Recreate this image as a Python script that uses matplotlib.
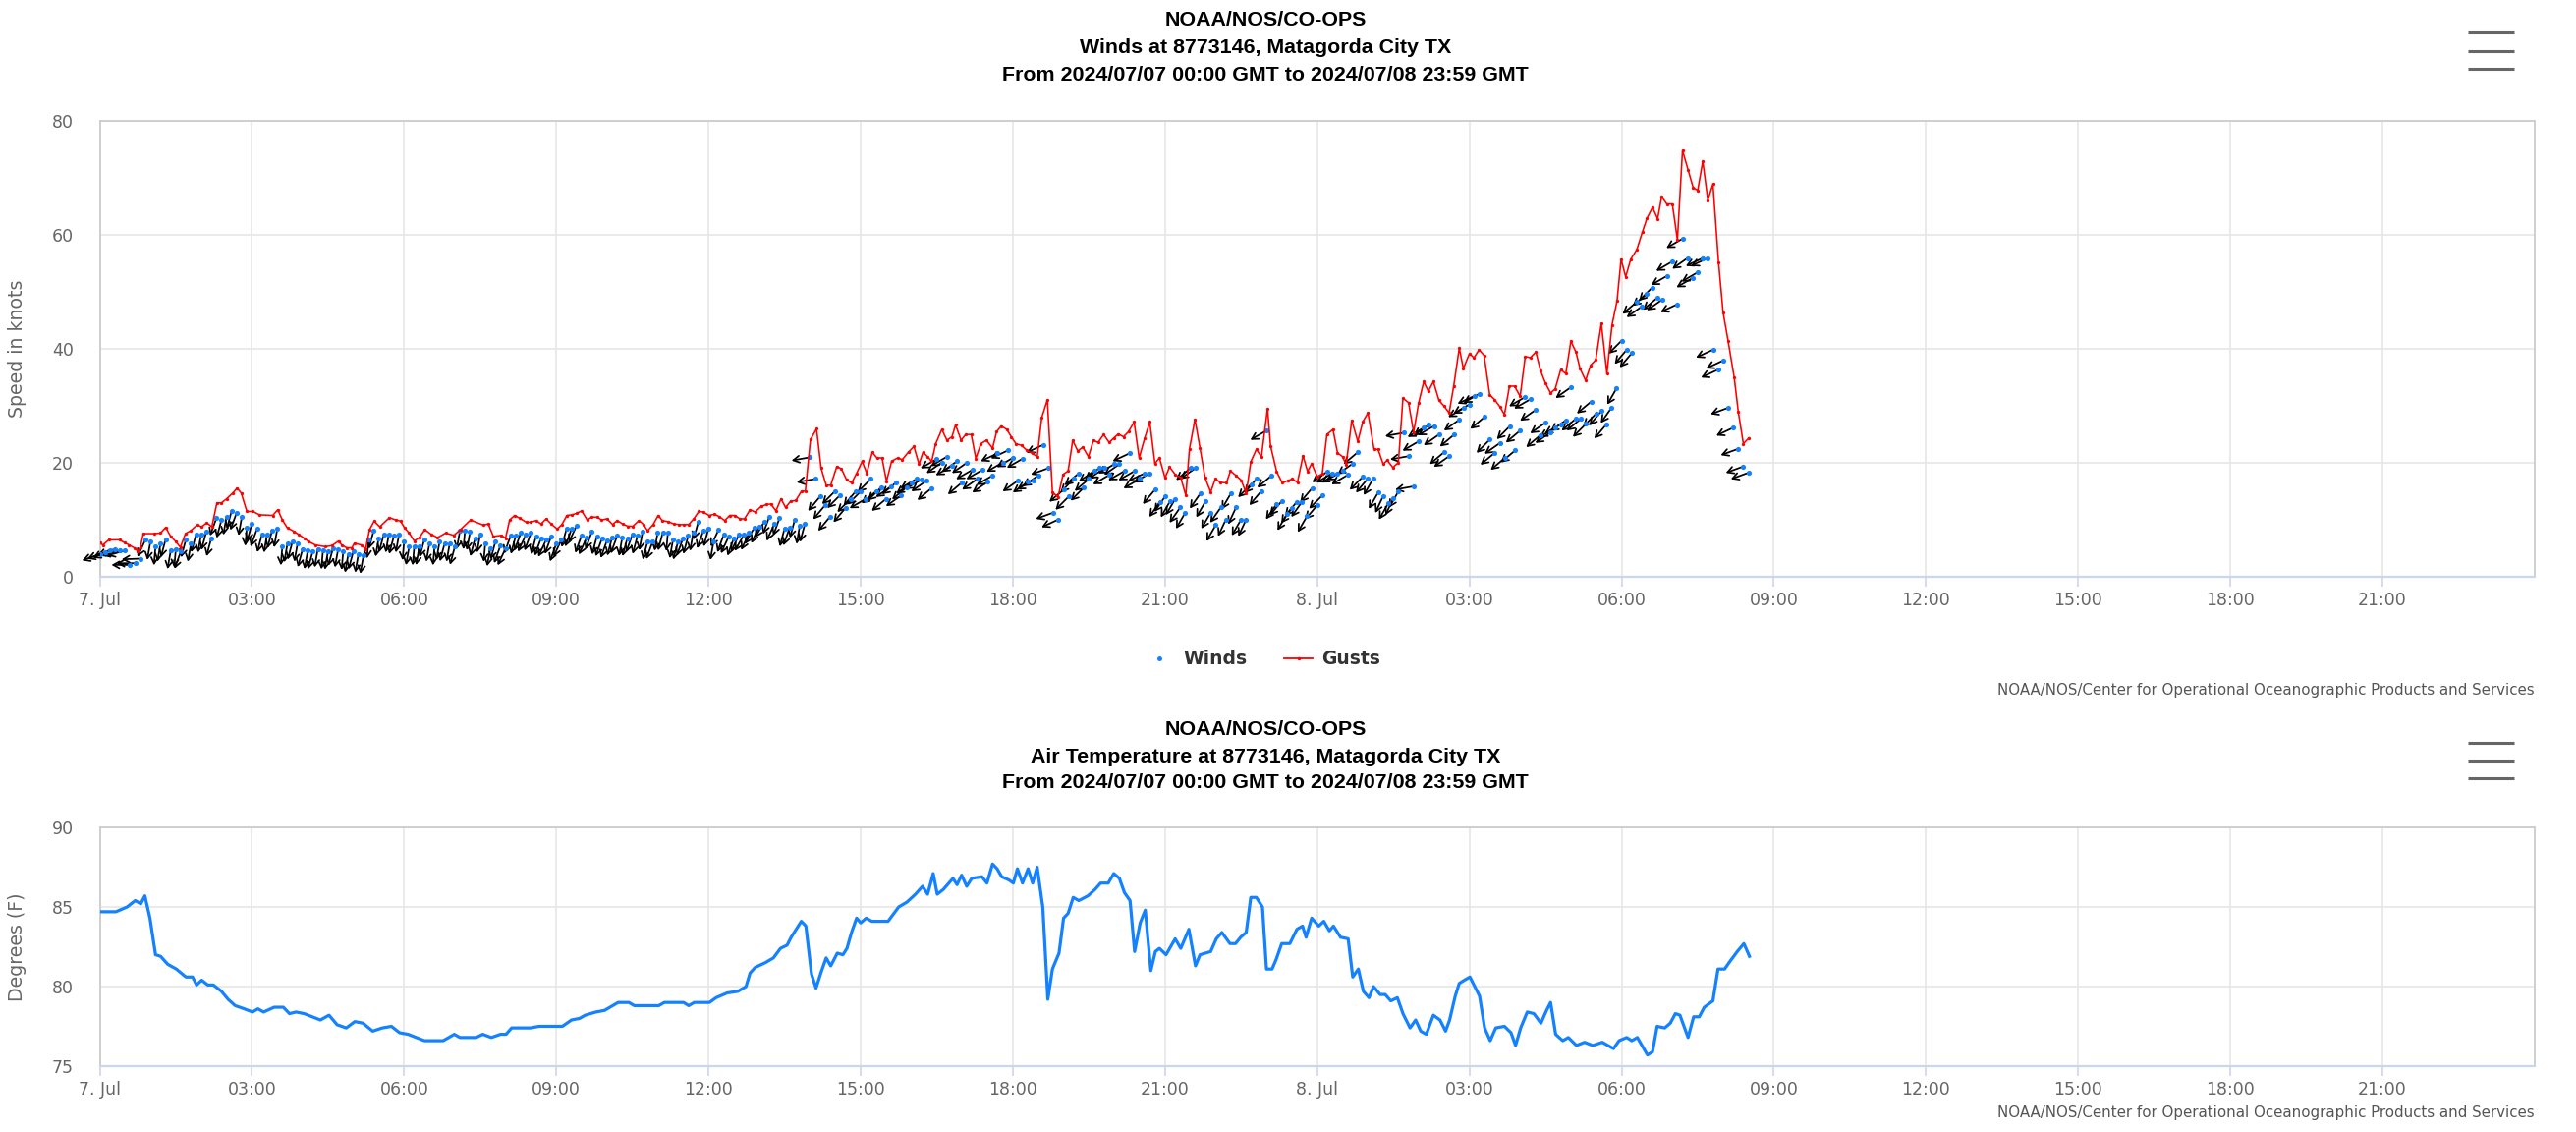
import matplotlib
matplotlib.use("Agg")
import matplotlib.pyplot as plt
from matplotlib.lines import Line2D
from matplotlib.transforms import offset_copy
import numpy as np

W, H, DPI = 2622, 1152, 100

# ---------------- data ----------------
wind_step_hours = 0.1  # one observation every 6 minutes from 2024/07/07 00:00
wind_speed = [
    3.9, 4.2, 4.6, 4.8, 4.5, 4.5, 2.0, 2.3, 3.1, 6.4,
    6.1, 5.2, 5.8, 6.5, 4.5, 4.8, 4.4, 6.5, 5.8, 7.4,
    7.4, 7.8, 6.7, 10.2, 9.9, 10.5, 11.5, 11.2, 10.4, 8.6,
    9.3, 8.3, 7.4, 7.4, 8.1, 8.3, 5.2, 5.7, 6.1, 5.8,
    4.8, 4.5, 4.4, 4.8, 4.5, 4.4, 5.0, 4.8, 4.4, 3.9,
    4.4, 3.9, 3.7, 6.4, 8.0, 6.7, 7.4, 7.4, 7.1, 7.4,
    6.1, 5.2, 5.2, 5.2, 6.5, 5.8, 5.2, 6.1, 5.8, 5.8,
    5.2, 8.0, 8.0, 7.8, 6.7, 7.4, 5.8, 5.0, 6.1, 5.4,
    4.9, 7.1, 7.1, 7.6, 7.3, 7.6, 7.0, 6.7, 6.4, 7.0,
    5.7, 6.4, 8.3, 8.3, 8.9, 7.2, 6.8, 7.8, 7.0, 6.6,
    6.3, 6.8, 7.1, 6.8, 6.7, 7.3, 7.1, 7.8, 6.1, 6.1,
    7.7, 7.7, 7.7, 6.4, 6.1, 6.7, 7.1, 7.7, 9.6, 8.0,
    8.4, 6.1, 8.2, 7.3, 7.0, 6.7, 7.3, 7.3, 7.6, 8.5,
    8.8, 9.6, 10.5, 9.2, 10.2, 8.4, 8.5, 9.9, 8.9, 9.2,
    20.9, 17.1, 14.0, 12.5, 10.5, 15.0, 14.3, 12.0, 13.6, 14.9,
    14.9, 13.6, 17.1, 14.9, 15.6, 13.6, 15.8, 16.5, 14.2, 15.6,
    16.4, 17.1, 17.0, 16.8, 15.5, 20.6, 20.0, 21.0, 19.4, 20.2,
    16.5, 20.0, 18.7, 17.1, 18.7, 16.6, 17.7, 21.6, 20.0, 22.1,
    20.8, 16.8, 20.7, 16.6, 16.9, 17.7, 23.1, 19.0, 11.2, 10.0,
    15.2, 14.0, 17.1, 18.1, 15.6, 17.1, 18.5, 19.0, 19.0, 17.8,
    19.7, 19.7, 18.5, 21.6, 18.5, 17.1, 18.1, 18.1, 15.2, 13.1,
    14.0, 13.2, 13.6, 12.1, 11.2, 19.0, 19.0, 14.6, 13.2, 11.2,
    9.0, 12.1, 10.0, 14.6, 12.1, 10.0, 10.0, 16.2, 17.1, 15.0,
    25.6, 17.7, 12.7, 13.2, 10.9, 12.0, 13.1, 13.1, 10.6, 15.5,
    12.5, 14.2, 18.4, 18.1, 18.1, 18.5, 17.8, 19.8, 21.8, 17.5,
    17.2, 17.1, 14.7, 14.1, 12.8, 13.7, 14.9, 25.2, 21.1, 15.8,
    23.7, 26.1, 26.6, 26.4, 24.9, 21.8, 21.1, 24.9, 27.5, 29.6,
    30.2, 31.7, 32.1, 28.0, 24.0, 21.7, 23.4, 20.8, 26.4, 22.1,
    25.6, 31.5, 31.1, 29.2, 24.8, 27.0, 25.3, 26.1, 26.7, 27.4,
    33.2, 27.7, 27.7, 26.8, 30.7, 28.6, 29.0, 26.7, 29.6, 33.0,
    41.4, 39.8, 39.2, 48.2, 47.4, 49.6, 50.7, 48.9, 48.6, 52.8,
    55.3, 47.8, 59.3, 55.9, 52.4, 53.4, 55.9, 55.9, 39.8, 36.3,
    37.9, 29.6, 26.1, 22.4, 19.3, 18.2,
]
# direction the wind blows FROM, degrees true
wind_dir = [
    70, 70, 65, 70, 75, 75, 90, 90, 88, 25,
    10, 5, 10, 15, 10, 5, 20, 15, 10, 15,
    10, 15, 15, 20, 15, 10, 15, 20, 10, 5,
    15, 20, 15, 10, 15, 10, 5, 10, 15, 10,
    15, 10, 15, 10, 5, 10, 15, 10, 5, 10,
    15, 10, 10, 5, 15, 10, 15, 10, 15, 10,
    5, 10, 5, 10, 15, 10, 5, 10, 15, 10,
    15, 10, 5, 10, 15, 10, 5, 10, 15, 20,
    25, 20, 15, 20, 25, 20, 15, 20, 25, 20,
    20, 25, 15, 20, 25, 20, 25, 20, 15, 20,
    20, 15, 20, 10, 15, 20, 15, 10, 15, 20,
    10, 15, 5, 10, 15, 20, 15, 10, 15, 20,
    15, 10, 25, 20, 25, 20, 25, 30, 25, 30,
    25, 30, 20, 25, 20, 15, 20, 15, 10, 15,
    80, 80, 40, 40, 40, 45, 45, 40, 45, 40,
    45, 60, 45, 50, 45, 50, 55, 50, 55, 50,
    55, 60, 60, 55, 50, 60, 55, 60, 60, 55,
    50, 55, 60, 55, 60, 55, 60, 65, 60, 65,
    60, 55, 60, 55, 60, 55, 65, 70, 70, 65,
    50, 45, 45, 50, 45, 50, 55, 50, 55, 60,
    60, 55, 60, 65, 60, 60, 65, 60, 40, 35,
    35, 30, 30, 35, 30, 50, 55, 35, 30, 30,
    30, 35, 25, 30, 25, 30, 25, 45, 40, 40,
    60, 50, 35, 40, 30, 35, 40, 35, 30, 40,
    40, 45, 55, 60, 60, 60, 60, 55, 50, 45,
    40, 30, 30, 25, 30, 25, 30, 80, 80, 80,
    60, 60, 55, 60, 55, 50, 55, 50, 55, 60,
    60, 65, 60, 50, 45, 50, 55, 50, 45, 50,
    50, 60, 60, 55, 50, 55, 55, 60, 60, 55,
    55, 50, 50, 45, 50, 45, 40, 40, 35, 30,
    45, 40, 40, 50, 55, 50, 45, 50, 55, 60,
    60, 65, 60, 55, 60, 60, 65, 65, 65, 65,
    65, 70, 65, 70, 70, 70,
]
gust_hours = [
    0.00, 0.06, 0.18, 0.39, 0.49, 0.58, 0.68, 0.75, 0.80, 0.86, 1.07, 1.20, 1.30, 1.40,
    1.50, 1.59, 1.69, 1.79, 1.92, 2.01, 2.11, 2.21, 2.31, 2.40, 2.50, 2.62, 2.71, 2.79,
    2.90, 3.02, 3.15, 3.41, 3.51, 3.60, 3.70, 3.83, 3.93, 4.03, 4.12, 4.25, 4.45, 4.58,
    4.71, 4.77, 4.87, 4.97, 5.02, 5.16, 5.24, 5.32, 5.41, 5.52, 5.71, 5.84, 5.93, 6.01,
    6.10, 6.20, 6.30, 6.41, 6.53, 6.66, 6.82, 6.98, 7.11, 7.31, 7.56, 7.66, 7.76, 7.92,
    8.00, 8.08, 8.18, 8.28, 8.41, 8.50, 8.60, 8.70, 8.80, 8.90, 9.02, 9.11, 9.21, 9.31,
    9.41, 9.50, 9.61, 9.70, 9.81, 9.89, 10.00, 10.11, 10.20, 10.31, 10.41, 10.51, 10.63,
    10.72, 10.80, 10.91, 11.01, 11.09, 11.21, 11.32, 11.42, 11.52, 11.61, 11.71, 11.81,
    11.90, 12.01, 12.12, 12.21, 12.32, 12.42, 12.52, 12.62, 12.71, 12.82, 12.92, 13.04,
    13.14, 13.23, 13.33, 13.43, 13.52, 13.62, 13.72, 13.83, 13.91, 14.01, 14.13, 14.22,
    14.32, 14.41, 14.53, 14.62, 14.72, 14.82, 14.92, 15.03, 15.12, 15.23, 15.32, 15.42,
    15.51, 15.61, 15.73, 15.82, 15.94, 16.05, 16.15, 16.23, 16.32, 16.40, 16.48, 16.60,
    16.70, 16.80, 16.87, 16.98, 17.07, 17.18, 17.27, 17.37, 17.48, 17.60, 17.68, 17.77,
    17.88, 17.97, 18.06, 18.17, 18.28, 18.38, 18.48, 18.57, 18.68, 18.78, 18.89, 18.99,
    19.09, 19.18, 19.28, 19.38, 19.49, 19.59, 19.68, 19.79, 19.90, 19.99, 20.08, 20.18,
    20.28, 20.39, 20.49, 20.60, 20.70, 20.80, 20.89, 21.00, 21.09, 21.20, 21.31, 21.41,
    21.48, 21.59, 21.69, 21.79, 21.90, 21.99, 22.09, 22.21, 22.29, 22.40, 22.50, 22.60,
    22.69, 22.80, 22.90, 23.02, 23.08, 23.20, 23.31, 23.42, 23.51, 23.61, 23.72, 23.81,
    23.89, 24.00, 24.10, 24.19, 24.31, 24.40, 24.50, 24.57, 24.68, 24.80, 24.90, 25.00,
    25.12, 25.20, 25.30, 25.38, 25.49, 25.60, 25.69, 25.80, 25.90, 26.00, 26.10, 26.19,
    26.29, 26.40, 26.50, 26.60, 26.69, 26.80, 26.88, 27.00, 27.09, 27.19, 27.29, 27.40,
    27.50, 27.60, 27.69, 27.79, 27.89, 28.00, 28.10, 28.20, 28.31, 28.40, 28.50, 28.60,
    28.69, 28.80, 28.90, 29.00, 29.10, 29.18, 29.29, 29.39, 29.49, 29.60, 29.71, 29.81,
    29.91, 29.99, 30.08, 30.18, 30.30, 30.41, 30.50, 30.61, 30.71, 30.79, 30.89, 31.00,
    31.10, 31.20, 31.31, 31.41, 31.50, 31.60, 31.70, 31.80, 31.91, 32.00, 32.10, 32.22,
    32.30, 32.40, 32.51,
]
gust_speed = [
    5.9, 5.5, 6.4, 6.4, 5.9, 5.5, 5.0, 4.4, 5.1, 7.5, 7.5, 7.6, 8.6, 7.0,
    6.1, 5.1, 7.5, 8.0, 9.0, 8.7, 9.4, 8.7, 12.9, 12.9, 13.6, 14.6, 15.5, 14.6,
    11.4, 11.4, 10.8, 10.7, 11.7, 9.9, 8.5, 7.9, 7.3, 6.7, 6.1, 5.5, 5.2, 5.4,
    6.2, 5.5, 5.0, 5.0, 5.8, 5.5, 4.8, 8.2, 9.7, 8.7, 10.3, 9.9, 9.7, 8.5,
    7.6, 6.2, 6.8, 8.2, 7.4, 6.8, 7.6, 7.2, 8.2, 9.9, 9.0, 9.2, 7.0, 7.2,
    6.7, 9.9, 10.7, 10.2, 9.5, 9.5, 9.8, 9.2, 10.1, 9.2, 8.3, 9.1, 10.7, 10.8,
    11.1, 11.5, 9.9, 10.4, 10.4, 9.9, 10.1, 9.1, 9.8, 9.2, 8.8, 8.8, 9.8,
    9.1, 8.0, 9.1, 10.7, 9.8, 9.6, 9.2, 9.1, 9.1, 9.1, 10.1, 11.4,
    11.3, 10.7, 10.9, 10.5, 9.8, 10.7, 10.7, 10.1, 10.1, 11.7, 11.3, 12.3,
    12.6, 12.7, 11.5, 13.6, 12.1, 13.2, 13.3, 14.9, 15.0, 24.0, 25.9, 19.0,
    16.0, 16.0, 19.3, 18.9, 17.0, 16.4, 18.1, 20.2, 18.1, 21.8, 20.8, 20.8,
    16.7, 20.2, 20.8, 20.5, 21.8, 22.8, 19.7, 21.8, 21.0, 20.2, 23.3, 25.8,
    23.9, 24.5, 26.6, 23.9, 24.9, 24.9, 20.7, 23.3, 23.9, 22.5, 25.4, 26.4,
    25.8, 24.5, 23.3, 23.0, 22.1, 21.6, 21.0, 27.9, 31.0, 14.8, 13.9, 17.9,
    18.5, 23.9, 22.0, 22.7, 21.0, 23.9, 23.5, 24.9, 23.5, 24.3, 25.0, 24.5,
    25.4, 27.1, 20.8, 24.3, 27.1, 19.8, 20.8, 17.3, 19.2, 17.9, 17.3, 14.2,
    22.3, 27.6, 22.5, 17.3, 14.8, 17.1, 16.5, 16.4, 18.5, 17.7, 16.9, 14.6,
    20.1, 22.3, 21.0, 29.5, 22.9, 18.4, 16.4, 16.8, 17.1, 16.5, 21.2, 18.4,
    19.8, 17.5, 18.0, 24.9, 25.8, 21.7, 21.0, 19.6, 27.4, 23.7, 27.2, 28.7,
    22.3, 22.3, 19.7, 20.4, 19.1, 20.0, 31.3, 30.5, 25.3, 30.5, 34.2, 32.5,
    34.2, 30.9, 29.9, 28.7, 33.4, 40.1, 36.5, 39.1, 38.4, 39.8, 38.8, 31.9,
    31.0, 29.8, 28.4, 33.4, 33.4, 31.6, 38.6, 38.4, 39.4, 36.2, 33.9, 32.2,
    32.9, 36.3, 35.6, 41.3, 39.4, 36.5, 34.4, 37.1, 38.0, 44.4, 35.6, 44.1,
    48.4, 55.7, 52.6, 55.7, 57.4, 60.5, 62.9, 64.8, 62.8, 66.7, 65.4, 65.4,
    59.1, 74.8, 71.4, 68.3, 67.8, 72.9, 66.1, 68.9, 55.2, 46.4, 41.3, 34.9,
    28.9, 23.3, 24.3,
]
temp_hours = [
    0.00, 0.32, 0.54, 0.70, 0.81, 0.89, 0.99, 1.10, 1.20, 1.34, 1.51, 1.70, 1.83, 1.91,
    2.01, 2.13, 2.24, 2.40, 2.53, 2.67, 2.85, 3.01, 3.12, 3.23, 3.44, 3.62, 3.74, 3.87,
    4.03, 4.19, 4.35, 4.52, 4.68, 4.86, 5.03, 5.19, 5.38, 5.57, 5.75, 5.91, 6.08, 6.24,
    6.40, 6.77, 6.99, 7.10, 7.42, 7.55, 7.72, 7.90, 8.01, 8.12, 8.49, 8.66, 9.12, 9.30,
    9.46, 9.57, 9.78, 9.95, 10.22, 10.43, 10.54, 11.02, 11.13, 11.51, 11.61, 11.72, 12.02,
    12.15, 12.37, 12.58, 12.74, 12.82, 12.92, 13.12, 13.28, 13.42, 13.55, 13.63, 13.83,
    13.92, 14.03, 14.12, 14.22, 14.32, 14.41, 14.54, 14.65, 14.73, 14.82, 14.92, 15.00,
    15.11, 15.22, 15.54, 15.75, 15.91, 16.08, 16.22, 16.32, 16.43, 16.51, 16.63, 16.74,
    16.82, 16.90, 16.99, 17.09, 17.19, 17.39, 17.49, 17.60, 17.69, 17.78, 17.92, 18.01,
    18.09, 18.19, 18.30, 18.39, 18.48, 18.59, 18.69, 18.78, 18.91, 19.00, 19.09, 19.19,
    19.30, 19.48, 19.62, 19.73, 19.88, 19.99, 20.10, 20.20, 20.31, 20.40, 20.51, 20.61,
    20.72, 20.81, 20.89, 21.02, 21.20, 21.31, 21.47, 21.60, 21.69, 21.90, 22.01, 22.12,
    22.28, 22.39, 22.49, 22.60, 22.69, 22.80, 22.92, 23.00, 23.11, 23.19, 23.30, 23.46,
    23.60, 23.71, 23.78, 23.89, 24.03, 24.13, 24.24, 24.32, 24.46, 24.61, 24.70, 24.81,
    24.91, 25.02, 25.11, 25.24, 25.34, 25.45, 25.58, 25.69, 25.83, 25.94, 26.04, 26.15,
    26.29, 26.42, 26.53, 26.61, 26.72, 26.80, 26.90, 27.01, 27.12, 27.20, 27.30, 27.41,
    27.52, 27.69, 27.82, 27.91, 28.01, 28.14, 28.27, 28.41, 28.52, 28.60, 28.70, 28.84,
    28.95, 29.11, 29.27, 29.43, 29.62, 29.84, 29.95, 30.10, 30.20, 30.31, 30.40, 30.51,
    30.61, 30.70, 30.85, 30.96, 31.06, 31.15, 31.31, 31.42, 31.53, 31.63, 31.80, 31.90,
    32.03, 32.14, 32.28, 32.41, 32.52,
]
temp_values = [
    84.7, 84.7, 85.0, 85.4, 85.2, 85.7, 84.3, 82.0, 81.9, 81.4, 81.1, 80.6, 80.6, 80.1,
    80.4, 80.1, 80.1, 79.7, 79.2, 78.8, 78.6, 78.4, 78.6, 78.4, 78.7, 78.7, 78.3, 78.4,
    78.3, 78.1, 77.9, 78.2, 77.6, 77.4, 77.8, 77.7, 77.2, 77.4, 77.5, 77.1, 77.0, 76.8,
    76.6, 76.6, 77.0, 76.8, 76.8, 77.0, 76.8, 77.0, 77.0, 77.4, 77.4, 77.5, 77.5, 77.9,
    78.0, 78.2, 78.4, 78.5, 79.0, 79.0, 78.8, 78.8, 79.0, 79.0, 78.8, 79.0, 79.0,
    79.3, 79.6, 79.7, 80.0, 80.85, 81.2, 81.5, 81.8, 82.4, 82.6, 83.1, 84.1,
    83.8, 80.8, 79.9, 80.9, 81.8, 81.3, 82.1, 82.0, 82.4, 83.4, 84.3, 84.0,
    84.3, 84.1, 84.1, 85.0, 85.3, 85.8, 86.3, 85.8, 87.1, 85.8, 86.1, 86.5,
    86.8, 86.4, 87.0, 86.3, 86.8, 86.9, 86.5, 87.7, 87.4, 86.9, 86.7, 86.5,
    87.4, 86.5, 87.4, 86.5, 87.5, 85.0, 79.2, 81.1, 82.1, 84.3, 84.6, 85.6,
    85.4, 85.7, 86.1, 86.5, 86.5, 87.1, 86.8, 85.9, 85.4, 82.2, 84.0, 84.8,
    81.0, 82.2, 82.4, 82.0, 83.0, 82.4, 83.6, 81.3, 82.0, 82.2, 83.0, 83.4,
    82.7, 82.7, 83.1, 83.4, 85.6, 85.6, 85.0, 81.1, 81.1, 81.7, 82.7, 82.7,
    83.6, 83.8, 83.1, 84.3, 83.8, 84.1, 83.5, 83.8, 83.1, 83.0, 80.6, 81.1,
    79.7, 79.3, 80.0, 79.5, 79.5, 79.1, 79.3, 78.3, 77.4, 77.9, 77.2, 77.0,
    78.2, 77.9, 77.2, 77.9, 79.4, 80.2, 80.4, 80.6, 79.9, 79.4, 77.4, 76.6,
    77.4, 77.5, 77.1, 76.3, 77.4, 78.4, 78.3, 77.7, 78.5, 79.0, 77.0, 76.6,
    76.8, 76.3, 76.5, 76.3, 76.5, 76.1, 76.6, 76.8, 76.6, 76.8, 76.3, 75.7,
    75.9, 77.5, 77.4, 77.7, 78.3, 78.2, 76.8, 78.1, 78.1, 78.7, 79.1, 81.1,
    81.1, 81.6, 82.2, 82.7, 81.9,
]
x_tick_hours = [0, 3, 6, 9, 12, 15, 18, 21, 24, 27, 30, 33, 36, 39, 42, 45]
x_tick_labels = ["7. Jul", "03:00", "06:00", "09:00", "12:00", "15:00", "18:00", "21:00",
                 "8. Jul", "03:00", "06:00", "09:00", "12:00", "15:00", "18:00", "21:00"]
wind_yticks = [0, 20, 40, 60, 80]
temp_yticks = [75, 80, 85, 90]

wind_title = ["NOAA/NOS/CO-OPS", "Winds at 8773146, Matagorda City TX",
              "From 2024/07/07 00:00 GMT to 2024/07/08 23:59 GMT"]
temp_title = ["NOAA/NOS/CO-OPS", "Air Temperature at 8773146, Matagorda City TX",
              "From 2024/07/07 00:00 GMT to 2024/07/08 23:59 GMT"]
credit = "NOAA/NOS/Center for Operational Oceanographic Products and Services"

# ---------------- style ----------------
BLUE = "#1482ff"
RED = "#ff0000"
GRID = "#e6e6e6"
BORDER = "#cccccc"
AXLINE = "#ccd6eb"
TICKCOL = "#666666"
FONT = "DejaVu Sans"
TFONT = "Liberation Sans"

plt.rcParams["font.family"] = [FONT]

fig = plt.figure(figsize=(W / DPI, H / DPI), dpi=DPI)
fig.patch.set_facecolor("white")

PL, PR = 101.5, 2580.0


def fy(y):
    return 1 - y / H


def make_axes(top, bottom, ylim, yticks, ylabel):
    ax = fig.add_axes([PL / W, fy(bottom), (PR - PL) / W, (bottom - top) / H])
    ax.set_xlim(0, 48)
    ax.set_ylim(*ylim)
    ax.set_xticks(x_tick_hours)
    ax.set_xticklabels(x_tick_labels)
    ax.set_yticks(yticks)
    ax.grid(True, color=GRID, lw=1.2, zorder=0)
    ax.set_axisbelow(True)
    for s in ("left", "top", "right"):
        ax.spines[s].set_color(BORDER)
        ax.spines[s].set_linewidth(1.3)
    ax.spines["bottom"].set_color(AXLINE)
    ax.spines["bottom"].set_linewidth(1.6)
    ax.tick_params(axis="x", length=7, width=1.2, color=AXLINE, pad=4,
                   labelsize=12.5, labelcolor=TICKCOL)
    ax.tick_params(axis="y", length=0, pad=19, labelsize=12.5, labelcolor=TICKCOL)
    ax.set_ylabel(ylabel, fontsize=13.6, color=TICKCOL, labelpad=14)
    ax.yaxis.set_label_coords(-(PL - 27) / (PR - PL), 0.5)
    return ax


ax1 = make_axes(123, 586.5, (0, 80), wind_yticks, "Speed in knots")
ax2 = make_axes(842, 1085, (75, 90), temp_yticks, "Degrees (F)")

# ---- winds ----
wind_hours = [i * wind_step_hours for i in range(len(wind_speed))]
ARROW_PX = 19
for h, v, d in zip(wind_hours, wind_speed, wind_dir):
    b = np.deg2rad(d + 180.0)
    dx, dy = ARROW_PX * np.sin(b), ARROW_PX * np.cos(b)
    tr = offset_copy(ax1.transData, fig=fig, x=dx, y=dy, units="dots")
    ax1.annotate("", xy=(h, v), xycoords=tr, xytext=(h, v), textcoords="data",
                 arrowprops=dict(arrowstyle="->,head_length=0.45,head_width=0.25",
                                 color="black", lw=1.25, shrinkA=0, shrinkB=0),
                 zorder=3, annotation_clip=False)
ax1.scatter(wind_hours, wind_speed, s=14, color=BLUE, zorder=4, linewidths=0)
ax1.plot(gust_hours, gust_speed, color=RED, lw=1.15, marker="o", ms=2.4,
         markeredgewidth=0, zorder=5)

# ---- temperature ----
ax2.plot(temp_hours, temp_values, color=BLUE, lw=2.3, zorder=4,
         solid_joinstyle="round")

# ---- titles ----
TX = 1288
for lines, ys in ((wind_title, (21, 48.5, 76)), (temp_title, (743, 770.5, 797))):
    for t, y in zip(lines, ys):
        fig.text(TX / W, fy(y), t, ha="center", va="center", fontsize=15.4,
                 fontweight="bold", color="black", family=TFONT)

# ---- legend ----
LY = 670
fig.add_artist(Line2D([1180 / W], [fy(LY)], marker="o", ms=3.6, color=BLUE,
                      lw=0, markeredgewidth=0, transform=fig.transFigure))
fig.text(1204 / W, fy(LY), "Winds", ha="left", va="center", fontsize=13.5,
         fontweight="bold", color="#333333")
fig.add_artist(Line2D([1307 / W, 1336 / W], [fy(LY)] * 2, color=RED, lw=1.3,
                      transform=fig.transFigure))
fig.add_artist(Line2D([1321.5 / W], [fy(LY)], marker="o", ms=2.5, color=RED,
                      lw=0, markeredgewidth=0, transform=fig.transFigure))
fig.text(1345 / W, fy(LY), "Gusts", ha="left", va="center", fontsize=13.5,
         fontweight="bold", color="#333333")

# ---- credits ----
for y in (703, 1133):
    fig.text(PR / W, fy(y), credit, ha="right", va="center", fontsize=10.8,
             color="#555555")

# ---- menu icons ----
for ys in ((33, 52, 70), (756, 774, 792)):
    for y in ys:
        fig.add_artist(Line2D([2512 / W, 2559 / W], [fy(y)] * 2, color="#666666",
                              lw=2.2, solid_capstyle="butt",
                              transform=fig.transFigure))

fig.savefig("out.png", dpi=DPI, facecolor="white")
